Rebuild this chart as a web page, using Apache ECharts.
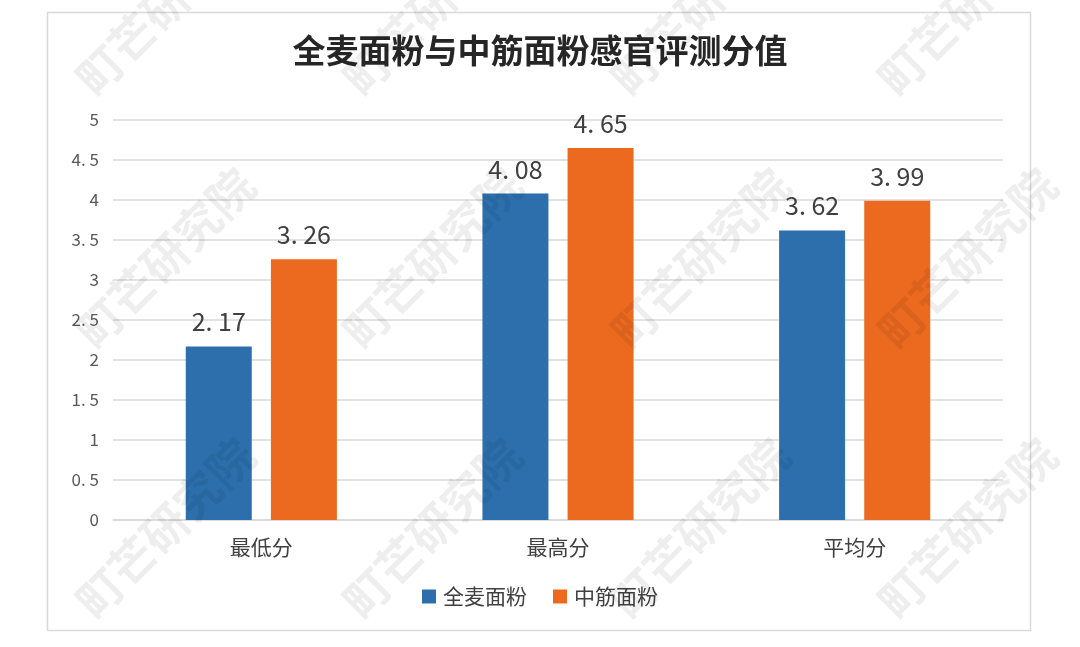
<!DOCTYPE html>
<html>
<head>
<meta charset="utf-8">
<script src="https://cdn.jsdelivr.net/npm/echarts@6/dist/echarts.min.js"></script>
<style>
  html, body { margin: 0; padding: 0; background: #fff; }
  #chart { width: 1080px; height: 647px; }
</style>
</head>
<body>
<div id="chart"></div>
<script>
// 数据
const categories = ["最低分", "最高分", "平均分"];
const wholeWheat = [2.17, 4.08, 3.62];
const allPurpose = [3.26, 4.65, 3.99];
const seriesNames = ["全麦面粉", "中筋面粉"];

const FONT = "Noto Sans CJK SC";

// 水印
const wmText = "町芒研究院";
const wmCols = [165, 432, 700, 967];
const wmRows = [5, 258, 528];

function addSpace(v) {
  return String(v).replace(".", ". ");
}

let watermarks = [];
wmRows.forEach(function (y) {
  wmCols.forEach(function (x) {
    watermarks.push({
      type: "text",
      x: x,
      y: y,
      rotation: Math.PI / 4,
      z: 100,
      silent: true,
      style: {
        text: wmText,
        fill: "rgba(0,0,0,0.065)",
        font: "bold 46px '" + FONT + "'",
        align: "center",
        verticalAlign: "middle"
      }
    });
  });
});

let myChart = echarts.init(document.getElementById("chart"));
myChart.setOption({
  backgroundColor: "#fff",
  animation: false,
  color: ["#2c6fac", "#eb6a20"],
  title: {
    text: "全麦面粉与中筋面粉感官评测分值",
    left: "center",
    top: 29,
    textStyle: {
      fontFamily: FONT,
      fontSize: 33,
      fontWeight: "bold",
      color: "#262626"
    }
  },
  graphic: [
    {
      type: "rect",
      shape: { x: 47.5, y: 12.5, width: 983, height: 618 },
      style: { fill: "none", stroke: "#d9d9d9", lineWidth: 1.5 },
      silent: true
    }
  ].concat(watermarks),
  legend: {
    data: seriesNames,
    top: 581,
    left: "center",
    itemWidth: 14,
    itemHeight: 14,
    itemGap: 26,
    icon: "rect",
    textStyle: {
      fontFamily: FONT,
      fontSize: 21,
      color: "#404040",
      padding: [0, 0, 0, 2]
    }
  },
  grid: {
    left: 113,
    right: 77,
    top: 120,
    bottom: 127
  },
  xAxis: {
    type: "category",
    data: categories,
    axisTick: { show: false },
    axisLine: { lineStyle: { color: "#d9d9d9", width: 1.5 } },
    axisLabel: {
      fontFamily: FONT,
      fontSize: 21,
      color: "#404040",
      margin: 17
    }
  },
  yAxis: {
    type: "value",
    min: 0,
    max: 5,
    interval: 0.5,
    axisLine: { show: false },
    axisTick: { show: false },
    splitLine: { lineStyle: { color: "#d9d9d9", width: 1.5 } },
    axisLabel: {
      fontFamily: FONT,
      fontSize: 17,
      color: "#595959",
      margin: 14,
      formatter: addSpace
    }
  },
  series: [
    {
      name: seriesNames[0],
      type: "bar",
      data: wholeWheat,
      barWidth: 66,
      barGap: "29%",
      label: {
        show: true,
        position: "top",
        distance: 12,
        fontFamily: FONT,
        fontSize: 25,
        color: "#404040",
        formatter: function (p) { return addSpace(p.value); }
      }
    },
    {
      name: seriesNames[1],
      type: "bar",
      data: allPurpose,
      barWidth: 66,
      barGap: "29%",
      label: {
        show: true,
        position: "top",
        distance: 12,
        fontFamily: FONT,
        fontSize: 25,
        color: "#404040",
        formatter: function (p) { return addSpace(p.value); }
      }
    }
  ]
});
</script>
</body>
</html>
